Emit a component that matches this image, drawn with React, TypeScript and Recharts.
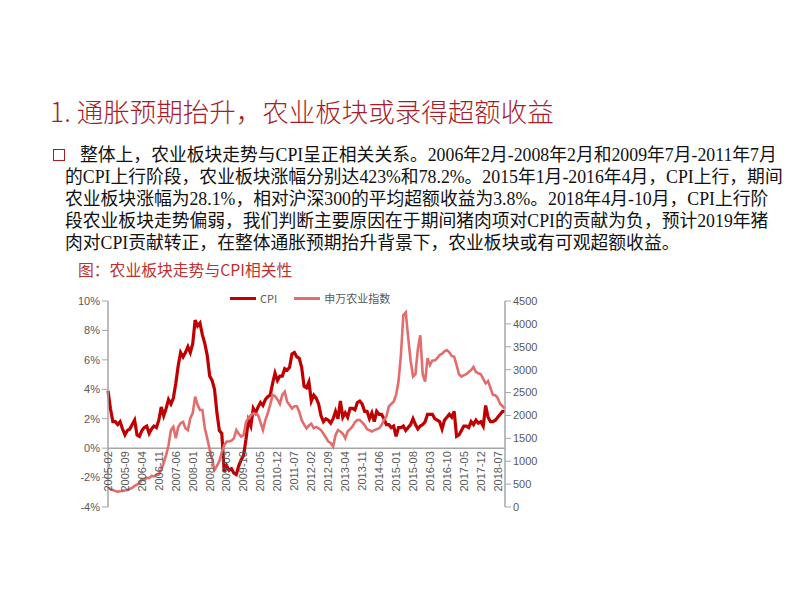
import React from 'react';
import { LineChart, Line, XAxis, YAxis, ReferenceLine, Legend } from 'recharts';

// ---------- data ----------
const START_YEAR = 2005;
const START_MONTH = 2;

// CPI YoY (%), 2005-02 .. 2018-10
const cpiYoY = [
  3.9, 2.7, 1.8, 1.8, 1.6, 1.8, 1.3, 0.9, 1.2, 1.3, 1.6,
  1.9, 0.9, 0.8, 1.2, 1.4, 1.5, 1.0, 1.3, 1.5, 1.4, 1.9, 2.8,
  2.2, 2.7, 3.3, 3.0, 3.4, 4.4, 5.6, 6.5, 6.2, 6.5, 6.9, 6.5,
  7.1, 8.7, 8.3, 8.5, 7.7, 7.1, 6.3, 4.9, 4.6, 4.0, 2.4, 1.2,
  1.0, -1.6, -1.2, -1.5, -1.4, -1.7, -1.8, -1.2, -0.8, -0.5, 0.6, 1.9,
  1.5, 2.7, 2.4, 2.8, 3.1, 2.9, 3.3, 3.5, 3.6, 4.4, 5.1, 4.6,
  4.9, 4.9, 5.4, 5.3, 5.5, 6.4, 6.5, 6.2, 6.1, 5.5, 4.2, 4.1,
  4.5, 3.2, 3.6, 3.4, 3.0, 2.2, 1.8, 2.0, 1.9, 1.7, 2.0, 2.5,
  2.0, 3.2, 2.1, 2.4, 2.1, 2.7, 2.7, 2.6, 3.1, 3.2, 3.0, 2.5,
  2.5, 2.0, 2.4, 1.8, 2.5, 2.3, 2.3, 2.0, 1.6, 1.6, 1.4, 1.5,
  0.8, 1.4, 1.4, 1.5, 1.2, 1.4, 1.6, 2.0, 1.6, 1.3, 1.5, 1.6,
  1.8, 2.3, 2.3, 2.3, 2.0, 1.9, 1.8, 1.3, 1.9, 2.1, 2.3, 2.1,
  2.5, 0.8, 0.9, 1.2, 1.5, 1.5, 1.4, 1.8, 1.6, 1.9, 1.7, 1.8,
  1.5, 2.9, 2.1, 1.8, 1.8, 1.9, 2.1, 2.3, 2.5, 2.5,
];

// 申万农业指数, 2005-02 .. 2018-10
const agriIndex = [
  420, 395, 370, 350, 335, 345, 350, 360, 370, 395, 420,
  460, 490, 520, 610, 590, 640, 630, 680, 670, 700, 710, 820,
  960, 1135, 1350, 1680, 1750, 1500, 1750, 1830, 1860, 1720, 1680, 1940,
  2050, 2410, 2230, 2120, 2120, 1720, 1500, 1250, 1050, 810, 900, 1000,
  1200, 1350, 1430, 1430, 1450, 1500, 1680, 1600, 1540, 1570, 1850, 1950,
  2000, 2050, 2030, 2010, 1850, 1680, 1900, 2050, 2230, 2450, 2420, 2350,
  2250, 2450, 2520, 2300, 2230, 2150, 2200, 2200, 2080, 1900, 1800, 1720,
  1780, 1820, 1720, 1750, 1720, 1680, 1600, 1520, 1430, 1400, 1320, 1570,
  1680, 1650, 1600, 1500, 1650, 1700, 1760, 1850, 1900, 1900, 1850, 1790,
  1700, 1680, 1650, 1680, 1700, 1720, 1790, 1900, 1980, 2190, 2250, 2300,
  2450, 2740, 3320, 4190, 4250, 3700, 3200, 2850, 2900, 3450, 3750, 2900,
  2740, 3250, 3100, 3200, 3200, 3250, 3320, 3350, 3400, 3430, 3380, 3300,
  3280, 3100, 2900, 2850, 2880, 2900, 2950, 2990, 3060, 2950, 2920, 2900,
  2800, 2700, 2750, 2600, 2450, 2440, 2380, 2250, 2200, 2150,
];

const monthLabels = cpiYoY.map((_, i) => {
  const t = START_MONTH - 1 + i;
  const y = START_YEAR + Math.floor(t / 12);
  const m = (t % 12) + 1;
  return `${y}-${m < 10 ? '0' + m : m}`;
});

const leftTicks = [-4, -2, 0, 2, 4, 6, 8, 10];
const rightTicks = [0, 500, 1000, 1500, 2000, 2500, 3000, 3500, 4000, 4500];
const SERIES_CPI = 'CPI';
const SERIES_AGRI = '申万农业指数';

const chartData = monthLabels.map((d, i) => ({ date: d, cpi: cpiYoY[i], agri: agriIndex[i] }));

// ---------- layout ----------
const CHART_W = 520;
const CHART_H = 230;
const XAXIS_H = 8;
const MARGIN = { top: 16, right: 0, bottom: 0, left: 0 };
const Y_MIN = -4;
const Y_MAX = 10;
const PLOT_H = CHART_H - MARGIN.top - MARGIN.bottom - XAXIS_H;
const ZERO_OFFSET = (PLOT_H * (0 - Y_MIN)) / (Y_MAX - Y_MIN);

const AXIS_COLOR = '#A6A6A6';
const TICK_COLOR = '#595959';
const CPI_COLOR = '#C00000';
const AGRI_COLOR = '#E36C6C';
const TICK_FONT = "'Liberation Sans', Arial, sans-serif";

const XTick = (props: any) => {
  const { x, y, payload } = props;
  const ty = y - ZERO_OFFSET + 3;
  return (
    <text
      transform={`translate(${x},${ty}) rotate(-90)`}
      textAnchor="end"
      dy="0.35em"
      fontSize={11}
      fill={TICK_COLOR}
      fontFamily={TICK_FONT}
    >
      {payload.value}
    </text>
  );
};

const renderLegend = (props: any) => {
  const { payload } = props;
  return (
    <div style={{ display: 'flex', alignItems: 'center', fontFamily: "'Noto Sans CJK SC', sans-serif", fontSize: 11, color: TICK_COLOR, whiteSpace: 'nowrap' }}>
      {payload.map((p: any, i: number) => (
        <div key={i} style={{ display: 'flex', alignItems: 'center', marginRight: 17 }}>
          <span style={{ display: 'inline-block', width: 26, height: 3, background: p.color }} />
          <span style={{ marginLeft: 4 }}>{p.value}</span>
        </div>
      ))}
    </div>
  );
};

export default function App() {
  return (
    <div style={{ position: 'absolute', left: 0, top: 0, width: 800, height: 600, background: '#fff', overflow: 'hidden' }}>
      <div
        style={{
          position: 'absolute', left: 50, top: 96, fontSize: 26.5, lineHeight: '30px', fontWeight: 300,
          color: '#A81C2A', fontFamily: "'Noto Sans CJK SC', sans-serif", whiteSpace: 'nowrap',
        }}
      >
        1. 通胀预期抬升，农业板块或录得超额收益
      </div>

      <div style={{ position: 'absolute', left: 53, top: 149, width: 10, height: 10, border: '1.5px solid #A81C2A' }} />
      <div
        style={{
          position: 'absolute', left: 65, top: 144, fontSize: 17.8, lineHeight: '22px', color: '#111',
          fontFamily: "'Liberation Serif', 'Times New Roman', 'Noto Sans CJK SC', serif", whiteSpace: 'nowrap',
        }}
      >
        <div style={{ paddingLeft: 15 }}>整体上，农业板块走势与CPI呈正相关关系。2006年2月-2008年2月和2009年7月-2011年7月</div>
        <div>的CPI上行阶段，农业板块涨幅分别达423%和78.2%。2015年1月-2016年4月，CPI上行，期间</div>
        <div>农业板块涨幅为28.1%，相对沪深300的平均超额收益为3.8%。2018年4月-10月，CPI上行阶</div>
        <div>段农业板块走势偏弱，我们判断主要原因在于期间猪肉项对CPI的贡献为负，预计2019年猪</div>
        <div>肉对CPI贡献转正，在整体通胀预期抬升背景下，农业板块或有可观超额收益。</div>
      </div>

      <div
        style={{
          position: 'absolute', left: 78, top: 261, fontSize: 15.8, lineHeight: '18px', color: '#C0302F',
          fontFamily: "'Noto Sans CJK SC', sans-serif", whiteSpace: 'nowrap',
        }}
      >
        图：农业板块走势与CPI相关性
      </div>

      <div style={{ position: 'absolute', left: 40, top: 285 }}>
        <LineChart width={CHART_W} height={CHART_H} data={chartData} margin={MARGIN}>
          <XAxis
            dataKey="date"
            scale="point"
            interval={6}
            height={XAXIS_H}
            axisLine={false}
            tickLine={false}
            tickSize={0}
            tickMargin={0}
            tick={<XTick />}
            padding={{ left: 0, right: 0 }}
          />
          <YAxis
            yAxisId="left"
            width={68}
            domain={[Y_MIN, Y_MAX]}
            ticks={leftTicks}
            tickFormatter={(v: number) => `${v}%`}
            axisLine={{ stroke: AXIS_COLOR, strokeWidth: 1.5 }}
            tickLine={{ stroke: AXIS_COLOR }}
            tick={{ fontSize: 11, fill: TICK_COLOR, fontFamily: TICK_FONT }}
            allowDataOverflow
          />
          <YAxis
            yAxisId="right"
            orientation="right"
            width={55}
            domain={[0, 4500]}
            ticks={rightTicks}
            axisLine={{ stroke: AXIS_COLOR, strokeWidth: 1.5 }}
            tickLine={{ stroke: AXIS_COLOR }}
            tick={{ fontSize: 11, fill: TICK_COLOR, fontFamily: TICK_FONT }}
            allowDataOverflow
          />
          <ReferenceLine yAxisId="left" y={0} stroke={AXIS_COLOR} strokeWidth={1.5} />
          <Legend
            verticalAlign="middle"
            align="center"
            wrapperStyle={{ top: 5, left: 190, width: 'auto' }}
            content={renderLegend}
          />
          <Line
            yAxisId="left"
            type="linear"
            dataKey="cpi"
            name={SERIES_CPI}
            stroke={CPI_COLOR}
            strokeWidth={3.2}
            dot={false}
            isAnimationActive={false}
          />
          <Line
            yAxisId="right"
            type="linear"
            dataKey="agri"
            name={SERIES_AGRI}
            stroke={AGRI_COLOR}
            strokeWidth={2.6}
            dot={false}
            isAnimationActive={false}
          />
        </LineChart>
      </div>
    </div>
  );
}
